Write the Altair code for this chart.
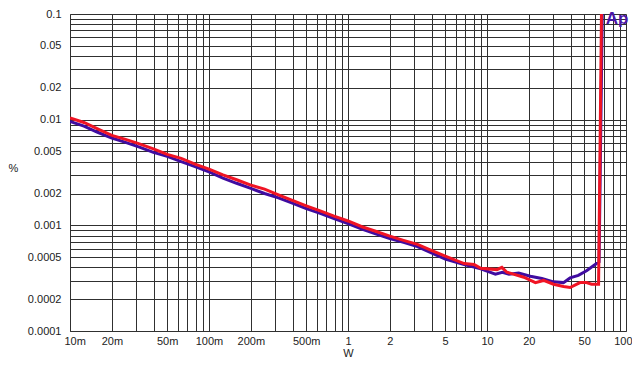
import json
import altair as alt
import pandas as pd

# ---- data (W vs THD+N %) ----
red_w = [0.01, 0.0126, 0.0158, 0.02, 0.0251, 0.0316, 0.0398, 0.0501, 0.0631, 0.0794,
         0.1, 0.126, 0.158, 0.2, 0.251, 0.316, 0.398, 0.501, 0.631, 0.794,
         1.0, 1.26, 1.58, 2.0, 2.51, 3.16, 3.98, 5.01, 6.85, 8.07,
         9.02, 11.8, 12.8, 13.9, 18.4, 22.3, 25.5, 30.1, 35.5, 39.6,
         46.7, 52.0, 56.5, 63.5, 66.6]
red_pct = [0.0104, 0.0094, 0.0082, 0.0071, 0.0065, 0.0059, 0.0053, 0.0047, 0.0043, 0.0038,
           0.0034, 0.0030, 0.0027, 0.0024, 0.0022, 0.00194, 0.00172, 0.00153, 0.00137, 0.00122,
           0.0011, 0.00097, 0.00088, 0.00079, 0.00072, 0.00066, 0.00058, 0.00051, 0.000435, 0.000426,
           0.000392, 0.000381, 0.000400, 0.00036, 0.000323, 0.000287, 0.000301, 0.000277, 0.000264, 0.000258,
           0.000287, 0.000287, 0.000277, 0.000277, 0.1]

blue_w = [0.01, 0.0126, 0.0158, 0.02, 0.0251, 0.0316, 0.0398, 0.0501, 0.0631, 0.0794,
          0.1, 0.126, 0.158, 0.2, 0.251, 0.316, 0.398, 0.501, 0.631, 0.794,
          1.0, 1.26, 1.58, 2.0, 2.51, 3.16, 3.98, 5.01, 6.85, 9.02,
          11.5, 12.9, 14.4, 16.9, 20.5, 24.8, 30.1, 35.5, 39.6, 45.4,
          52.0, 61.4, 64.0, 67.5]
blue_pct = [0.0096, 0.0087, 0.0076, 0.0067, 0.0061, 0.0055, 0.0049, 0.0045, 0.0040, 0.0036,
            0.0032, 0.0028, 0.0025, 0.00224, 0.0020, 0.00182, 0.00162, 0.00144, 0.0013, 0.00116,
            0.00104, 0.00092, 0.00083, 0.00075, 0.00069, 0.00063, 0.00055, 0.00048, 0.000426, 0.000387,
            0.000345, 0.00036, 0.000345, 0.000353, 0.00033, 0.000314, 0.000292, 0.000287, 0.000318, 0.000336,
            0.000371, 0.000435, 0.00045, 0.1]

x_labels = [0.01, 0.02, 0.05, 0.1, 0.2, 0.5, 1, 2, 5, 10, 20, 50, 100]
y_labels = [0.0001, 0.0002, 0.0005, 0.001, 0.002, 0.005, 0.01, 0.02, 0.05, 0.1]

logo_text = ["Ap"]
logo_w = [71.5]
logo_pct = [0.0806]

x_grid = [round(m * 10 ** e, 6) for e in range(-2, 2) for m in range(1, 10)] + [100]
y_grid = [round(m * 10 ** e, 8) for e in range(-4, -1) for m in range(1, 10)] + [0.1]

RED = "#f01424"
BLUE = "#3f0ca0"
GRID = "#303030"
FONT = "Liberation Sans"

red_df = pd.DataFrame({"w": red_w, "pct": red_pct})
blue_df = pd.DataFrame({"w": blue_w, "pct": blue_pct})
logo_df = pd.DataFrame({"w": logo_w, "pct": logo_pct, "t": logo_text})

x_label_expr = (
    f"indexof({json.dumps(x_labels)}, datum.value) >= 0 ? "
    "(datum.value < 1 ? format(datum.value * 1000, 'd') + 'm' : format(datum.value, 'd')) : ''"
)
y_label_expr = f"indexof({json.dumps(y_labels)}, datum.value) >= 0 ? format(datum.value, '~g') : ''"

x_enc = alt.X(
    "w:Q",
    scale=alt.Scale(type="log", domain=[0.01, 100], nice=False),
    axis=alt.Axis(
        values=x_grid, labelExpr=x_label_expr, title="W", ticks=False,
        grid=True, gridColor=GRID, gridWidth=1, gridOpacity=1,
        domainColor=GRID, labelOverlap=False, labelPadding=4,
        labelFlush=True, labelFlushOffset=6,
        titleY=25, titleBaseline="alphabetic", titleFontWeight="normal",
    ),
)
y_enc = alt.Y(
    "pct:Q",
    scale=alt.Scale(type="log", domain=[0.0001, 0.1], nice=False),
    axis=alt.Axis(
        values=y_grid, labelExpr=y_label_expr, title="%", ticks=False,
        grid=True, gridColor=GRID, gridWidth=1, gridOpacity=1,
        domainColor=GRID, labelOverlap=False, labelPadding=9, labelFlush=False,
        titleAngle=0, titleAlign="left", titleBaseline="middle",
        titleX=-62, titleY=154, titleFontWeight="normal",
    ),
)

blue_line = alt.Chart(blue_df).mark_line(color=BLUE, strokeWidth=3, clip=True).encode(x=x_enc, y=y_enc)
red_line = alt.Chart(red_df).mark_line(color=RED, strokeWidth=3, clip=True).encode(x=x_enc, y=y_enc)
logo = alt.Chart(logo_df).mark_text(
    color="#4a16a8", font=FONT, fontSize=17, fontWeight="bold", align="left", baseline="alphabetic"
).encode(x=x_enc, y=y_enc, text="t:N")

chart = (
    alt.layer(blue_line, red_line, logo)
    .properties(
        width=556, height=317,
        padding={"left": 62, "top": 6, "right": 6, "bottom": 28},
        autosize="none", background="white",
    )
    .configure_view(stroke=None)
    .configure_axis(
        labelFont=FONT, labelFontSize=11, labelColor="#222222",
        titleFont=FONT, titleFontSize=11, titleColor="#222222",
    )
)

chart.save("out.html", embed_options={"renderer": "svg", "actions": False})
